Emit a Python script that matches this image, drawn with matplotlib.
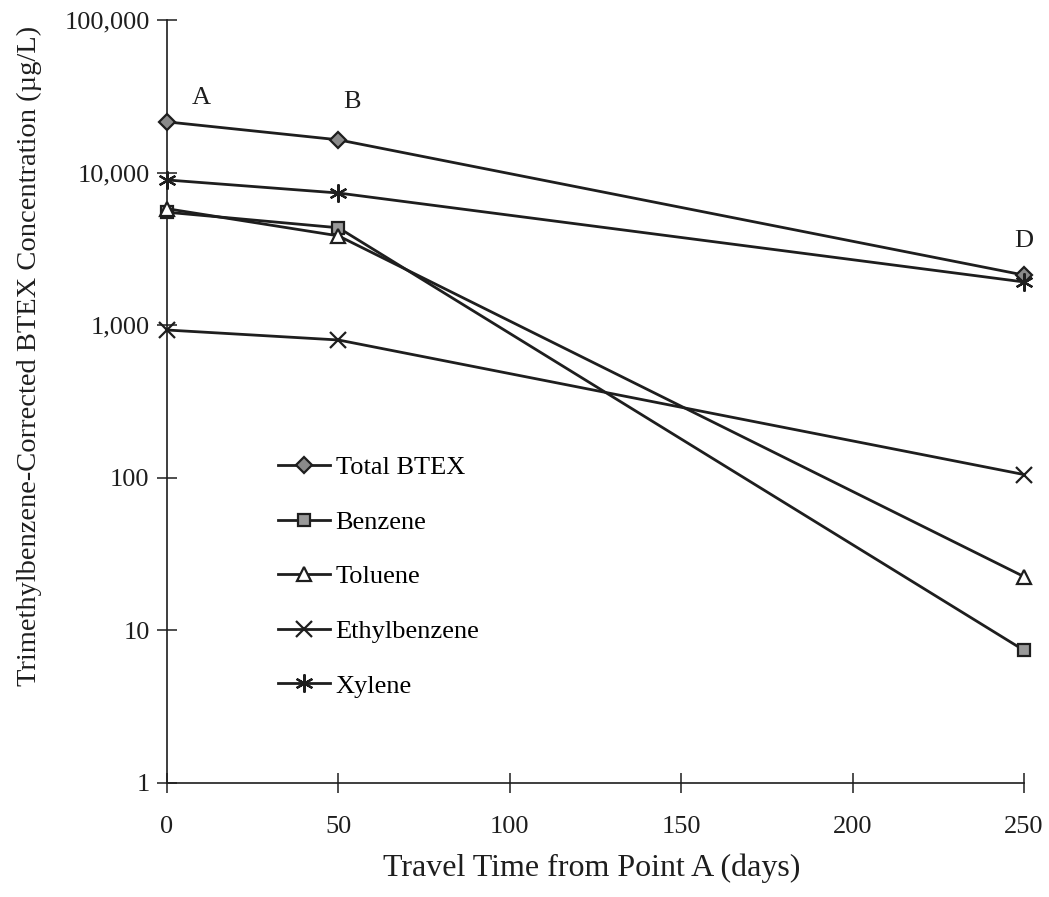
import matplotlib
matplotlib.use("Agg")
import matplotlib.pyplot as plt
from matplotlib.ticker import FixedLocator, FuncFormatter

plt.rcParams.update({
    "font.family": ["Liberation Serif", "DejaVu Serif"],
    "font.size": 19,
})

# travel time (days) and concentrations (ug/L)
days = [0, 50, 250]
total_btex = [21500, 16400, 2130]
benzene = [5500, 4350, 7.4]
toluene = [5800, 3850, 22.5]
ethylbenzene = [930, 800, 105]
xylene = [8950, 7350, 1920]

y_ticks = [1, 10, 100, 1000, 10000, 100000]
x_ticks = [0, 50, 100, 150, 200, 250]

# point labels (text only)
point_labels = [("A", 10, 31000), ("B", 54, 29000), ("D", 250, 3550)]

INK = "#1e1e1e"

fig = plt.figure(figsize=(10.49, 8.97), dpi=100)
ax = fig.add_axes([0.1592, 0.1271, 0.817, 0.8506])

common = dict(color=INK, lw=2.0, mew=1.6, zorder=3, clip_on=False)
ax.plot(days, total_btex, marker="D", ms=8, mfc="#8a8a8a", mec=INK, label="Total BTEX", **common)
ax.plot(days, benzene, marker="s", ms=9, mfc="#9a9a9a", mec=INK, label="Benzene", **common)
ax.plot(days, toluene, marker="^", ms=10, mfc="white", mec=INK, label="Toluene", **common)
ax.plot(days, ethylbenzene, marker="x", ms=12, mec=INK, label="Ethylbenzene", **common)
ax.plot(days, xylene, marker=(6, 2, 0), ms=13, mec=INK, label="Xylene", **common)

for txt, x, y in point_labels:
    ax.text(x, y, txt, ha="center", va="center", fontsize=19, color=INK)

ax.set_yscale("log")
ax.set_ylim(1, 100000)
ax.set_xlim(0, 250)
ax.yaxis.set_major_locator(FixedLocator(y_ticks))
ax.yaxis.set_minor_locator(FixedLocator([]))
ax.yaxis.set_major_formatter(FuncFormatter(lambda v, p: f"{v:,.0f}"))
ax.set_xticks(x_ticks)

for s in ("top", "right"):
    ax.spines[s].set_visible(False)
for s in ("left", "bottom"):
    ax.spines[s].set_linewidth(1.2)
    ax.spines[s].set_color(INK)
ax.tick_params(axis="both", direction="inout", length=15, width=1.1, colors=INK,
               labelsize=19)
ax.tick_params(axis="y", pad=5)
ax.tick_params(axis="x", pad=16)

ax.set_xlabel("Travel Time from Point A (days)", fontsize=23, color=INK)
ax.xaxis.set_label_coords(0.495, -0.092)
ax.set_ylabel("Trimethylbenzene-Corrected BTEX Concentration (\u00b5g/L)", fontsize=20.5,
              color=INK)
ax.yaxis.set_label_coords(-0.146, 0.56)

ax.legend(loc="upper left", bbox_to_anchor=(0.129, 0.429), frameon=False,
          fontsize=19, handlelength=2.0, handletextpad=0.2, labelspacing=1.18,
          borderaxespad=0, borderpad=0)

fig.savefig("out.png", dpi=100)
